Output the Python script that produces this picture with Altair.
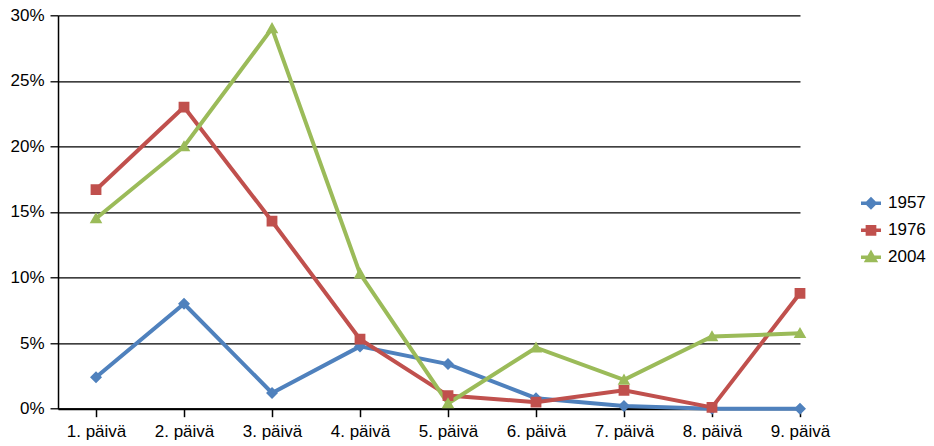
import altair as alt
import pandas as pd

days = ["1. päivä", "2. päivä", "3. päivä", "4. päivä", "5. päivä",
        "6. päivä", "7. päivä", "8. päivä", "9. päivä"]
years = ["1957", "1976", "2004"]
v1957 = [2.4, 8.0, 1.2, 4.75, 3.4, 0.8, 0.2, 0.0, 0.0]
v1976 = [16.7, 23.0, 14.3, 5.3, 1.0, 0.5, 1.4, 0.1, 8.8]
v2004 = [14.5, 20.0, 29.0, 10.3, 0.4, 4.65, 2.2, 5.5, 5.75]
colors = ["#4F81BD", "#C0504D", "#9BBB59"]

rows = []
for yr, vals in zip(years, [v1957, v1976, v2004]):
    for i, v in enumerate(vals):
        rows.append({"idx": i + 1, "day": days[i], "year": yr, "value": v / 100})
df = pd.DataFrame(rows)

# marker paths: a horizontal stroke-only segment (visible only in legend) + filled marker
shapes = [
    "M-1,0L1,0M0,-0.4L0.4,0L0,0.4L-0.4,0Z",
    "M-1,0L1,0M-0.36,-0.36L0.36,-0.36L0.36,0.36L-0.36,0.36Z",
    "M-1,0L1,0M0,-0.42L0.42,0.32L-0.42,0.32Z",
]

FONT = "Liberation Sans"
label_expr = "[" + ",".join("'%s'" % d for d in days) + "][datum.value - 1]"

x = alt.X("idx:Q", scale=alt.Scale(domain=[1 - 38 / 88, 9], nice=False, zero=False),
          axis=alt.Axis(values=list(range(1, 10)), labelExpr=label_expr, title=None,
                        grid=False, domainColor="black", domainWidth=2,
                        tickColor="black", tickSize=8, tickWidth=1.5,
                        labelFont=FONT, labelFontSize=17, labelColor="black",
                        labelOverlap=False, labelBaseline="alphabetic",
                        labelPadding=20, labelFlush=False))
y = alt.Y("value:Q", scale=alt.Scale(domain=[0, 0.30], nice=False),
          axis=alt.Axis(values=[0, 0.05, 0.10, 0.15, 0.20, 0.25, 0.30], format=".0%",
                        title=None, grid=True, gridColor="black", gridWidth=1.3,
                        domainColor="black", domainWidth=1.5,
                        tickColor="black", tickSize=8, tickWidth=1.3,
                        labelFont=FONT, labelFontSize=17, labelColor="black",
                        labelPadding=6))

color_scale = alt.Scale(domain=years, range=colors)
leg = alt.Legend(title=None, orient="none", legendX=801, legendY=176,
                 symbolSize=400, symbolStrokeWidth=3.5, labelFont=FONT,
                 labelFontSize=17, labelColor="black", labelOffset=5,
                 rowPadding=4, padding=0)

lines = alt.Chart(df).mark_line(strokeWidth=4).encode(
    x=x, y=y,
    color=alt.Color("year:N", scale=color_scale, legend=None),
)

points = alt.Chart(df).mark_point(filled=True, opacity=1, size=900).encode(
    x=x, y=y,
    color=alt.Color("year:N", scale=color_scale, legend=leg),
    stroke=alt.Stroke("year:N", scale=alt.Scale(domain=years, range=colors), legend=leg),
    shape=alt.Shape("year:N", scale=alt.Scale(domain=years, range=shapes), legend=leg),
    strokeWidth=alt.value(0),
)

chart = alt.layer(lines, points).resolve_legend(
    color="independent", stroke="independent", shape="independent"
).properties(
    width=742, height=393.4,
    autosize=alt.AutoSizeParams(type="none"),
    padding={"left": 50, "top": 7.3, "right": 126, "bottom": 33},
).configure_view(strokeWidth=0)

chart.save("out.html", embed_options={"renderer": "svg", "actions": False})
